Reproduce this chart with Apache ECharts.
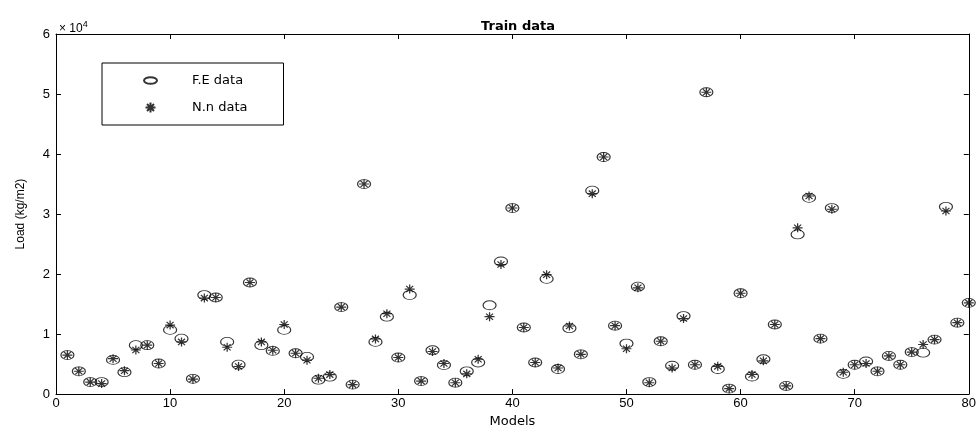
<!DOCTYPE html>
<html>
<head>
<meta charset="utf-8">
<script src="https://cdn.jsdelivr.net/npm/echarts@6/dist/echarts.min.js"></script>
<style>html,body{margin:0;padding:0;background:#fff}#c{width:979px;height:433px}</style>
</head>
<body>
<div id="c"></div>
<script>
const models = [1,2,3,4,5,6,7,8,9,10,11,12,13,14,15,16,17,18,19,20,21,22,23,24,25,26,27,28,29,30,31,32,33,34,35,36,37,38,39,40,41,42,43,44,45,46,47,48,49,50,51,52,53,54,55,56,57,58,59,60,61,62,63,64,65,66,67,68,69,70,71,72,73,74,75,76,77,78,79,80];
const feData = [6500,3800,2000,2000,5700,3650,8150,8150,5100,10700,9240,2550,16500,16100,8700,4900,18600,8150,7200,10700,6800,6200,2400,2900,14500,1580,35000,8700,12900,6100,16500,2170,7300,4840,1900,3800,5270,14800,22100,31000,11100,5270,19200,4180,10980,6630,33900,39500,11400,8420,17900,2000,8800,4730,13000,4890,50300,4180,920,16800,2930,5800,11600,1360,26600,32700,9240,31000,3370,4890,5430,3800,6360,4890,7000,6900,9080,31200,11900,15200];
const nnData = [6500,3800,2000,1750,5900,3900,7350,8150,5100,11500,8700,2500,16000,16100,7800,4600,18600,8700,7300,11600,6800,5650,2650,3250,14500,1580,35000,9200,13400,6100,17500,2170,7100,5100,1900,3370,5800,12900,21600,31000,11100,5270,19900,4350,11350,6630,33400,39500,11400,7550,17700,1900,8800,4350,12600,4890,50300,4620,920,16800,3260,5540,11600,1360,27700,33000,9240,30800,3640,4890,5100,3800,6360,4890,7000,8260,9080,30500,11900,15200];
const xTicks = [0,10,20,30,40,50,60,70,80];
const yTickLabels = ['0','1','2','3','4','5','6'];
const seriesNames = ['F.E data','N.n data'];

const ellipsePath = 'path://M0,5A10,5 0 1,0 20,5A10,5 0 1,0 0,5Z';
const starPath = 'path://M5,0L5,10M0,5L10,5M1.5,1.5L8.5,8.5M8.5,1.5L1.5,8.5';
const font = 'Liberation Sans, Arial, sans-serif';

const chart = echarts.init(document.getElementById('c'), null, {renderer: 'canvas'});
const axisCommon = {
  axisLine: {show: true, onZero: false, lineStyle: {color: '#000', width: 1}},
  axisTick: {show: true, inside: true, length: 5, lineStyle: {color: '#000'}},
  splitLine: {show: false}
};
chart.setOption({
  animation: false,
  backgroundColor: '#fff',
  title: [
    {text: 'Train data', left: 513, top: 15, textAlign: 'center',
     textStyle: {fontFamily: 'DejaVu Sans, sans-serif', fontWeight: 'bold', fontSize: 13, color: '#000'}},
    {text: '× 10{sup|4}', left: 54, top: 15,
     textStyle: {fontFamily: font, fontWeight: 'normal', fontSize: 12, color: '#000',
       rich: {sup: {fontFamily: font, fontSize: 9, verticalAlign: 'top', padding: [0,0,8,0], color: '#000'}}}}
  ],
  legend: {
    data: seriesNames,
    orient: 'vertical',
    left: 102, top: 63,
    padding: [11, 36, 11, 41],
    itemGap: 14,
    itemWidth: 13, itemHeight: 10,
    borderColor: '#000', borderWidth: 1,
    backgroundColor: '#fff',
    textStyle: {fontFamily: 'DejaVu Sans, sans-serif', fontSize: 13, color: '#000', padding: [0,0,0,30]}
  },
  grid: {left: 56, right: 7, top: 34, bottom: 30, containLabel: false},
  xAxis: [
    Object.assign({type: 'value', min: 0, max: 80, interval: 10, position: 'bottom',
      name: 'Models', nameLocation: 'middle', nameGap: 18,
      nameTextStyle: {fontFamily: 'DejaVu Sans, sans-serif', fontSize: 13, color: '#000'},
      axisLabel: {fontFamily: font, fontSize: 13, color: '#000', margin: 3,
        formatter: v => String(xTicks[xTicks.indexOf(v)])}}, axisCommon),
    Object.assign({type: 'value', min: 0, max: 80, interval: 10, position: 'top',
      axisLabel: {show: false}}, axisCommon)
  ],
  yAxis: [
    Object.assign({type: 'value', min: 0, max: 60000, interval: 10000, position: 'left',
      name: 'Load (kg/m2)', nameLocation: 'middle', nameGap: 29, nameRotate: 90,
      nameTextStyle: {fontFamily: font, fontSize: 12, color: '#000'},
      axisLabel: {fontFamily: font, fontSize: 13, color: '#000', margin: 6,
        formatter: v => yTickLabels[Math.round(v / 10000)]}}, axisCommon),
    Object.assign({type: 'value', min: 0, max: 60000, interval: 10000, position: 'right',
      axisLabel: {show: false}}, axisCommon)
  ],
  series: [
    {name: seriesNames[0], type: 'scatter', symbol: ellipsePath, symbolSize: [13, 9],
     data: models.map((m, i) => [m, feData[i]]),
     itemStyle: {color: 'rgba(0,0,0,0)', borderColor: '#000', borderWidth: 1},
     emphasis: {disabled: true}, z: 2},
    {name: seriesNames[1], type: 'scatter', symbol: starPath, symbolSize: [10, 9],
     data: models.map((m, i) => [m, nnData[i]]),
     itemStyle: {color: '#000', borderColor: '#000', borderWidth: 1.2},
     emphasis: {disabled: true}, z: 3}
  ]
});
</script>
</body>
</html>
